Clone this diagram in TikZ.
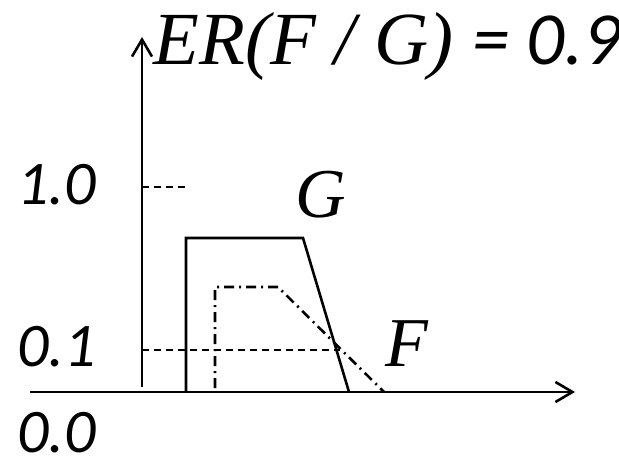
\documentclass[tikz,border=0pt]{standalone}
\usepackage{fontspec}
\setmainfont{Liberation Serif}
\newfontfamily\numfont{Carlito}
\usetikzlibrary{arrows.meta}

\begin{document}
\begin{tikzpicture}[x=0.5pt, y=-0.5pt,
  axis/.style={line width=1.3pt, -{Straight Barb[length=8.5pt,width=10pt]}},
  setline/.style={line width=1.3pt},
  level/.style={line width=1.3pt, dash pattern=on 3.5pt off 2.5pt},
  member/.style={line width=1.3pt, dash pattern=on 5pt off 2.5pt on 1pt off 2.5pt},
  num/.style={font=\numfont\itshape\fontsize{31}{33}\selectfont,
    anchor=base west, inner sep=0pt},
  setname/.style={font=\itshape\fontsize{35}{38}\selectfont,
    anchor=base west, inner sep=0pt}]
\useasboundingbox (0,0) rectangle (619,459);
% axes
\draw[axis] (142,387) -- (142,37);
\draw[axis] (30,392) -- (575,392);
% levels
\draw[level] (142,187) -- (186,187);
\draw[level] (142,350) -- (340,350);
% the two sets
\draw[setline] (186,392) -- (186,238) -- (303,238) -- (349,392);
\draw[member] (215,388) -- (215,287) -- (278,287) -- (384,392);
% labels
\node[anchor=base west, inner sep=0pt, font=\itshape\fontsize{37.5}{40}\selectfont]
  (ratio) at (153,65) {ER(F / G) {\numfont = 0.9}};
\node[num] (one) at (17,205) {1.0};
\node[num] (tenth) at (17,366) {0.1};
\node[num] (zero) at (17,452) {0.0};
\node[setname] (gname) at (295,218) {G};
\node[setname] (fname) at (385,366) {F};
\end{tikzpicture}
\end{document}
